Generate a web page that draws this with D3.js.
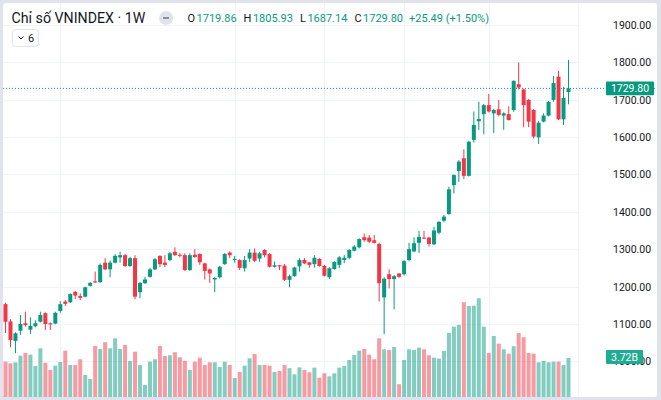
<!DOCTYPE html>
<html>
<head>
<meta charset="utf-8">
<script src="https://cdn.jsdelivr.net/npm/d3@7"></script>
<style>
    html, body { margin: 0; padding: 0; background: #e0e3eb; }
    svg { display: block; font-family: Roboto, "Noto Sans", sans-serif; }
</style>
</head>
<body>
<svg id="chart" width="661" height="400"></svg>
<script>
/**
 * Weekly candles, VNINDEX.
 */
const opens = [
    1153, 1107, 1055, 1082, 1102, 1085, 1094, 1106, 1129, 1102,
    1101, 1135, 1160, 1158, 1186, 1175, 1173, 1202, 1214, 1212,
    1264, 1246, 1264, 1278, 1284, 1255, 1276, 1185, 1209, 1226,
    1246, 1282, 1264, 1271, 1293, 1285, 1284, 1244, 1285, 1287,
    1262, 1246, 1219, 1225, 1260, 1291, 1271, 1271, 1249, 1275,
    1291, 1275, 1298, 1287, 1253, 1257, 1256, 1218, 1228, 1254,
    1271, 1265, 1260, 1274, 1255, 1225, 1247, 1258, 1271, 1277,
    1296, 1305, 1332, 1331, 1324, 1314, 1171, 1233, 1220, 1235,
    1233, 1271, 1294, 1317, 1331, 1331, 1313, 1344, 1376, 1394,
    1471, 1509, 1543, 1496, 1592, 1642, 1661, 1685, 1663, 1674,
    1657, 1661, 1672, 1741, 1727, 1699, 1672, 1599, 1641, 1657,
    1699, 1761, 1647, 1719.86
];
const highs = [
    1157, 1113, 1078, 1124, 1133, 1118, 1110, 1133, 1131, 1104,
    1133, 1161, 1164, 1182, 1188, 1182, 1200, 1212, 1240, 1262,
    1276, 1270, 1287, 1293, 1287, 1280, 1284, 1212, 1226, 1250,
    1276, 1284, 1284, 1292, 1305, 1289, 1289, 1289, 1300, 1289,
    1264, 1248, 1226, 1255, 1290, 1294, 1282, 1273, 1282, 1300,
    1302, 1293, 1300, 1289, 1267, 1258, 1260, 1232, 1253, 1276,
    1276, 1266, 1284, 1276, 1258, 1252, 1268, 1282, 1284, 1300,
    1311, 1329, 1342, 1338, 1338, 1317, 1225, 1246, 1231, 1236,
    1271, 1317, 1332, 1349, 1349, 1333, 1360, 1375, 1392, 1467,
    1500, 1538, 1567, 1590, 1668, 1694, 1688, 1715, 1675, 1699,
    1666, 1682, 1751, 1799, 1729, 1701, 1674, 1643, 1663, 1696,
    1763, 1777, 1734, 1805.93
];
const lows = [
    1076, 1038, 1022, 1071, 1093, 1073, 1091, 1104, 1084, 1084,
    1099, 1130, 1148, 1156, 1167, 1164, 1171, 1200, 1210, 1210,
    1244, 1225, 1262, 1264, 1253, 1253, 1166, 1169, 1207, 1224,
    1244, 1252, 1252, 1268, 1282, 1278, 1242, 1242, 1277, 1258,
    1219, 1210, 1185, 1222, 1258, 1276, 1264, 1244, 1240, 1266,
    1266, 1266, 1278, 1251, 1251, 1244, 1215, 1198, 1226, 1240,
    1260, 1251, 1251, 1253, 1227, 1220, 1245, 1249, 1263, 1273,
    1294, 1302, 1320, 1316, 1315, 1160, 1073, 1195, 1139, 1224,
    1230, 1268, 1292, 1290, 1327, 1307, 1311, 1340, 1372, 1392,
    1449, 1480, 1487, 1494, 1585, 1619, 1607, 1665, 1610, 1655,
    1619, 1644, 1667, 1727, 1626, 1626, 1596, 1581, 1639, 1655,
    1694, 1645, 1632, 1687.14
];
const closes = [
    1106, 1057, 1075, 1100, 1097, 1095, 1102, 1124, 1100, 1099,
    1130, 1153, 1154, 1180, 1176, 1170, 1198, 1210, 1211, 1258,
    1246, 1264, 1282, 1284, 1255, 1276, 1173, 1210, 1219, 1246,
    1273, 1260, 1258, 1289, 1284, 1283, 1244, 1284, 1279, 1265,
    1242, 1235, 1223, 1253, 1287, 1284, 1274, 1250, 1271, 1291,
    1269, 1289, 1284, 1253, 1257, 1254, 1218, 1228, 1251, 1271,
    1262, 1258, 1277, 1255, 1229, 1249, 1266, 1278, 1277, 1298,
    1307, 1327, 1324, 1320, 1317, 1209, 1221, 1220, 1228, 1226,
    1268, 1300, 1316, 1333, 1329, 1314, 1350, 1373, 1387, 1460,
    1498, 1534, 1496, 1587, 1632, 1648, 1685, 1668, 1672, 1659,
    1663, 1645, 1750, 1732, 1685, 1641, 1601, 1638, 1657, 1694,
    1744, 1647, 1704.31, 1729.80
];
// Volume, billions of shares
const volumes = [
    3.37, 3.21, 3.31, 3.94, 4.20, 4.04, 2.96, 4.65, 3.27, 2.58,
    2.99, 3.34, 4.42, 3.05, 3.05, 3.60, 2.10, 1.72, 4.87, 4.58,
    5.22, 4.65, 5.60, 4.58, 4.96, 3.44, 4.32, 3.05, 1.15, 3.37,
    3.60, 4.87, 3.91, 3.98, 4.27, 3.79, 3.44, 2.58, 3.37, 3.75,
    3.05, 3.31, 3.31, 2.86, 3.37, 3.05, 1.81, 2.39, 2.99, 3.69,
    4.10, 3.05, 3.05, 2.99, 2.39, 2.48, 3.05, 2.75, 2.16, 2.83,
    2.58, 2.36, 2.80, 1.84, 2.26, 1.97, 2.26, 2.80, 2.96, 3.53,
    4.01, 4.42, 4.58, 4.04, 3.60, 5.60, 4.55, 4.48, 4.77, 1.22,
    3.53, 4.55, 4.48, 4.71, 4.55, 3.98, 3.75, 3.66, 4.39, 6.11,
    6.71, 6.87, 9.04, 8.68, 8.71, 9.42, 6.71, 4.20, 5.82, 5.09,
    4.55, 4.13, 4.84, 6.11, 5.70, 4.20, 4.13, 3.31, 3.44, 3.31,
    3.37, 3.37, 3.05, 3.72
];

const priceTicks = [1000, 1100, 1200, 1300, 1400, 1500, 1600, 1700, 1800, 1900];
const timeGridBars = [11, 46, 64, 80, 97]; // bars where a new period starts

/**
 * Visual configs.
 */
const pane = { left: 3, top: 3, right: 578, bottom: 397 },
    frameRight = 657,
    bodyWidth = 4,
    green = '#089981',
    red = '#f23645',
    greenVol = 'rgba(8,153,129,0.5)',
    redVol = 'rgba(242,54,69,0.5)',
    gridColor = '#f0f3fa',
    textColor = '#131722';

const n = closes.length;
const bars = d3.range(n).map(i => ({
    i: i,
    o: opens[i], h: highs[i], l: lows[i], c: closes[i],
    v: volumes[i],
    up: closes[i] >= opens[i]
}));

const x = d3.scaleLinear().domain([0, n - 1]).range([5.5, 568.5]),
    y = d3.scaleLinear().domain([1100, 1900]).range([324, 24.7]),
    yVol = d3.scaleLinear().domain([0, 3.72]).range([pane.bottom, 358]);

const svg = d3.select('#chart');

// Frame
svg.append('rect').attr('width', 661).attr('height', 400).attr('fill', '#e0e3eb');
svg.append('rect')
    .attr('x', pane.left).attr('y', pane.top)
    .attr('width', frameRight - pane.left).attr('height', pane.bottom - pane.top)
    .attr('rx', 3).attr('fill', '#fff');

svg.append('clipPath').attr('id', 'pane-clip')
    .append('rect')
    .attr('x', pane.left).attr('y', pane.top)
    .attr('width', pane.right - pane.left).attr('height', pane.bottom - pane.top);

// Grid
const grid = svg.append('g').attr('class', 'grid').attr('clip-path', 'url(#pane-clip)');
grid.selectAll('.hgrid').data(priceTicks).enter().append('line')
    .attr('class', 'hgrid')
    .attr('x1', pane.left).attr('x2', pane.right)
    .attr('y1', d => Math.round(y(d)) + 0.5).attr('y2', d => Math.round(y(d)) + 0.5)
    .attr('stroke', gridColor);
grid.selectAll('.vgrid').data(timeGridBars).enter().append('line')
    .attr('class', 'vgrid')
    .attr('x1', d => Math.round(x(d)) + 0.5).attr('x2', d => Math.round(x(d)) + 0.5)
    .attr('y1', pane.top).attr('y2', pane.bottom)
    .attr('stroke', gridColor);

// Separator between pane and price scale
svg.append('line')
    .attr('x1', pane.right + 0.5).attr('x2', pane.right + 0.5)
    .attr('y1', pane.top).attr('y2', pane.bottom)
    .attr('stroke', gridColor);

// Volume
const plot = svg.append('g').attr('clip-path', 'url(#pane-clip)');
plot.append('g').attr('class', 'volume')
    .selectAll('rect').data(bars).enter().append('rect')
    .attr('x', d => x(d.i) - bodyWidth / 2)
    .attr('width', bodyWidth)
    .attr('y', d => yVol(d.v))
    .attr('height', d => yVol(0) - yVol(d.v))
    .attr('fill', d => d.up ? greenVol : redVol);

// Candles
const candles = plot.append('g').attr('class', 'candles')
    .selectAll('g').data(bars).enter().append('g');
candles.append('line')
    .attr('x1', d => x(d.i)).attr('x2', d => x(d.i))
    .attr('y1', d => y(d.h)).attr('y2', d => y(d.l))
    .attr('stroke', d => d.up ? green : red);
candles.append('rect')
    .attr('x', d => x(d.i) - bodyWidth / 2)
    .attr('width', bodyWidth)
    .attr('y', d => y(Math.max(d.o, d.c)))
    .attr('height', d => Math.max(1, Math.abs(y(d.o) - y(d.c))))
    .attr('fill', d => d.up ? green : red);

// Last price line
const last = bars[n - 1];
svg.append('line')
    .attr('x1', pane.left).attr('x2', frameRight)
    .attr('y1', y(last.c)).attr('y2', y(last.c))
    .attr('stroke', green).attr('stroke-dasharray', '1,2');

// Price scale
const axis = svg.append('g').attr('class', 'price-axis');
axis.selectAll('text').data(priceTicks).enter().append('text')
    .attr('x', 613).attr('y', d => y(d) + 4)
    .attr('font-size', 10.5).attr('fill', textColor)
    .text(d => d.toFixed(2));

function axisLabel(value, yPos, width, fill) {
    const g = svg.append('g');
    g.append('rect')
        .attr('x', 606).attr('y', yPos - 6.9)
        .attr('width', width).attr('height', 13.8)
        .attr('rx', 1).attr('fill', fill);
    g.append('text')
        .attr('x', 606 + width / 2).attr('y', yPos + 4)
        .attr('text-anchor', 'middle')
        .attr('font-size', 10.5).attr('fill', '#fff')
        .text(value);
}
axisLabel(last.c.toFixed(2), y(last.c), 48, green);
axisLabel(last.v.toFixed(2) + 'B', yVol(last.v) - 1, 37, '#22ab94');

// Legend
const prevClose = closes[n - 2],
    change = last.c - prevClose,
    changePct = change / prevClose * 100,
    valueColor = change >= 0 ? green : red;

svg.append('text')
    .attr('x', 11.5).attr('y', 22.5)
    .attr('font-size', 14.2).attr('fill', textColor)
    .text('Chỉ số VNINDEX · 1W');

svg.append('circle').attr('cx', 166).attr('cy', 18).attr('r', 7).attr('fill', '#e0e3eb');
svg.append('rect').attr('x', 163).attr('y', 17.2).attr('width', 6).attr('height', 1.6)
    .attr('fill', '#787b86');

const ohlc = svg.append('text')
    .attr('x', 187.5).attr('y', 22)
    .attr('font-size', 11);
[['O', last.o], ['H', last.h], ['L', last.l], ['C', last.c]].forEach((p, k) => {
    ohlc.append('tspan').attr('dx', k ? 7 : 0).attr('fill', textColor).text(p[0]);
    ohlc.append('tspan').attr('dx', 1.5).attr('fill', valueColor).text(p[1].toFixed(2));
});
ohlc.append('tspan').attr('dx', 6).attr('fill', valueColor)
    .text((change >= 0 ? '+' : '') + change.toFixed(2) +
        ' (' + (change >= 0 ? '+' : '') + changePct.toFixed(2) + '%)');

// Collapsed indicators button
const btn = svg.append('g');
btn.append('rect')
    .attr('x', 12.5).attr('y', 29.5).attr('width', 26).attr('height', 17)
    .attr('rx', 3).attr('fill', '#fff').attr('stroke', '#e0e3eb');
btn.append('path')
    .attr('d', 'M18.5,36.5 L21,39 L23.5,36.5')
    .attr('fill', 'none').attr('stroke', textColor).attr('stroke-width', 1);
btn.append('text')
    .attr('x', 28).attr('y', 42)
    .attr('font-size', 11).attr('fill', textColor)
    .text('6');
</script>
</body>
</html>
